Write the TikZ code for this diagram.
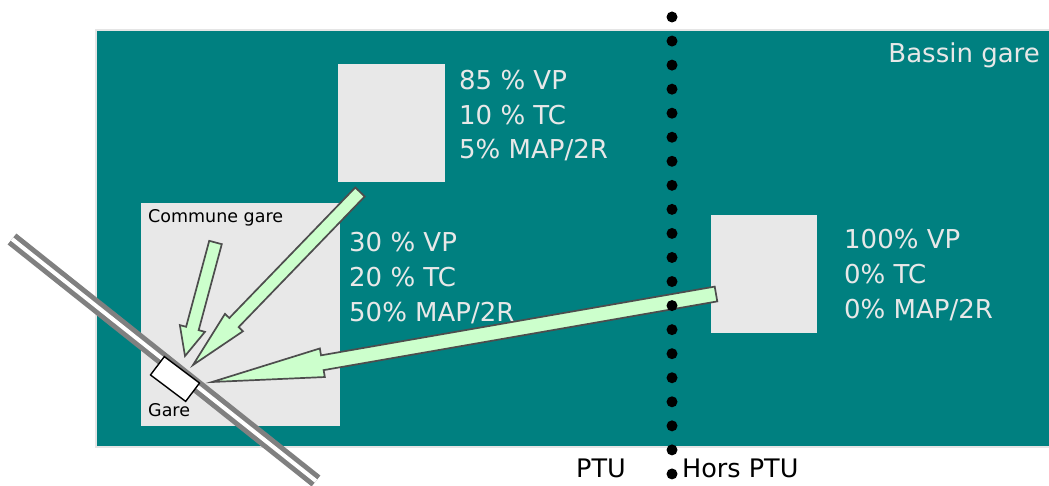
\documentclass[tikz,border=0pt]{standalone}
\usepackage{fontspec}
\setmainfont{DejaVu Sans}
\usetikzlibrary{calc}
\definecolor{bassin}{HTML}{008080}
\definecolor{zone}{HTML}{E8E8E8}
\definecolor{flux}{HTML}{CCFFCC}
\definecolor{fluxline}{HTML}{4D4D4D}
\definecolor{railgray}{HTML}{808080}
% tail, tip, half shaft width, half head width, head length
\newcommand{\fluxarrow}[5]{%
  \coordinate (fh) at ($(#2)!#5!(#1)$);
  \draw[fluxstyle] ($(#1)!#3!90:(#2)$) -- ($(fh)!#3!90:(#2)$) -- ($(fh)!#4!90:(#2)$) -- (#2)
    -- ($(fh)!#4!-90:(#2)$) -- ($(fh)!#3!-90:(#2)$) -- ($(#1)!#3!-90:(#2)$) -- cycle;}
\begin{document}
\begin{tikzpicture}[x=1pt,y=-1pt,
  zonebox/.style={fill=zone, draw=none, inner sep=0pt, outer sep=0pt},
  fluxstyle/.style={fill=flux, draw=fluxline, line width=1.7pt, line join=miter},
  pct/.style={font=\fontsize{26}{31}\selectfont, text=zone, inner sep=0pt, anchor=base west},
  small/.style={font=\fontsize{17.5}{20}\selectfont, text=black, inner sep=0pt, anchor=base west},
  ptu/.style={font=\fontsize{25.5}{30}\selectfont, text=black, inner sep=0pt, anchor=base west},
  dot/.style={fill=black}]
\useasboundingbox (0,0) rectangle (1049,486);
\fill[white] (0,0) rectangle (1049,486);
% bassin
\node[fill=bassin, draw=gray!20, line width=1.2pt, inner sep=0pt, outer sep=0pt,
      minimum width=955pt, minimum height=417pt] (bassin) at (573.5,238.5) {};
\node[pct, anchor=base east] (bassinlbl) at (1040,63) {Bassin gare};
% zones
\node[zonebox, minimum width=107pt, minimum height=118pt] (haut) at (391.5,123) {};
\node[zonebox, minimum width=106pt, minimum height=118pt] (hors) at (764,274) {};
\node[zonebox, minimum width=199pt, minimum height=223pt] (commune) at (240.5,314.5) {};
% texts
\node[pct] (h1) at (459,90) {85 \% VP};
\node[pct] (h2) at (459,124.5) {10 \% TC};
\node[pct] (h3) at (459,159) {5\% MAP/2R};
\node[pct] (c1) at (349,252) {30 \% VP};
\node[pct] (c2) at (349,286.5) {20 \% TC};
\node[pct] (c3) at (349,321) {50\% MAP/2R};
\node[pct] (r1) at (844,249) {100\% VP};
\node[pct] (r2) at (844,283.5) {0\% TC};
\node[pct] (r3) at (844,318) {0\% MAP/2R};
\node[small] (communelbl) at (148,223) {Commune gare};
\node[small] (garelbl) at (148,416) {Gare};
% rail
\coordinate (railA) at (12,239);
\coordinate (railB) at (316,481);
\draw[railgray, line width=14pt] (railA) -- (railB);
\draw[white, line width=4pt] (railA) -- (railB);
\node[fill=white, draw=black, line width=1.4pt, minimum width=44pt, minimum height=23pt,
      inner sep=0pt, rotate=-37] (gare) at (175,379) {};
% flux arrows
\coordinate (t1) at (360,192);
\coordinate (p1) at (193,365);
\coordinate (t2) at (215.5,242.5);
\coordinate (p2) at (185,356);
\coordinate (t3) at (716,294);
\coordinate (p3) at (212,382);
\fluxarrow{t1}{p1}{6.5pt}{12.5pt}{59pt}
\fluxarrow{t2}{p2}{6.5pt}{13pt}{28.5pt}
\fluxarrow{t3}{p3}{7.5pt}{14.5pt}{112pt}
% PTU limit
\foreach \i in {0,...,19} \fill[dot] (672,{17+\i*24.05}) circle (5.5pt);
\node[ptu] (ptulbl) at (576,477) {PTU};
\node[ptu] (horslbl) at (682,477) {Hors PTU};
\end{tikzpicture}
\end{document}
